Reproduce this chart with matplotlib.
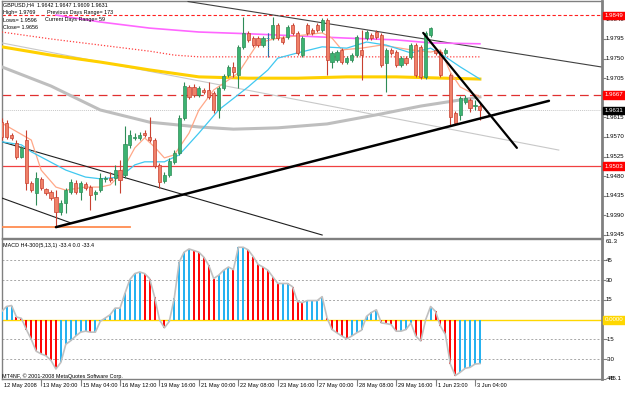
import matplotlib
matplotlib.use('Agg')
import matplotlib.pyplot as plt
import numpy as np
from matplotlib.patches import Rectangle
from matplotlib import font_manager as fm

_names = {f.name for f in fm.fontManager.ttflist}
if 'Liberation Sans Narrow' in _names:
    FAM, SCALE = 'Liberation Sans Narrow', 1.2
else:
    FAM, SCALE = 'Liberation Sans', 1.0
plt.rcParams['font.family'] = [FAM, 'DejaVu Sans']

# ---------------- data ----------------
opens = [1.9604, 1.9602, 1.9575, 1.9556, 1.9524, 1.9563, 1.9464, 1.9441, 1.9474, 1.9451,
         1.9444, 1.9432, 1.9398, 1.9418, 1.9444, 1.9464, 1.9444, 1.9462, 1.9455, 1.9439,
         1.9448, 1.9474, 1.9476, 1.9476, 1.9494, 1.9483, 1.9552, 1.9568, 1.9568, 1.9579,
         1.9570, 1.9563, 1.9506, 1.9469, 1.9483, 1.9513, 1.9533, 1.9614, 1.9685, 1.9685,
         1.9666, 1.9678, 1.9678, 1.9671, 1.9632, 1.9682, 1.9712, 1.9731, 1.9712, 1.9777,
         1.9809, 1.9797, 1.9797, 1.9781, 1.9797, 1.9797, 1.9827, 1.9797, 1.9800, 1.9827,
         1.9809, 1.9758, 1.9827, 1.9816, 1.9827, 1.9816, 1.9839, 1.9742, 1.9747, 1.9770,
         1.9742, 1.9747, 1.9758, 1.9770, 1.9797, 1.9804, 1.9811, 1.9804, 1.9740, 1.9770,
         1.9765, 1.9735, 1.9751, 1.9754, 1.9781, 1.9777, 1.9708, 1.9804, 1.9770, 1.9765,
         1.9763, 1.9712, 1.9625, 1.9621, 1.9650, 1.9655, 1.9641, 1.9642]
closes = [1.9570, 1.9570, 1.9568, 1.9524, 1.9545, 1.9464, 1.9448, 1.9476, 1.9453, 1.9441,
          1.9430, 1.9398, 1.9418, 1.9448, 1.9467, 1.9444, 1.9464, 1.9453, 1.9437, 1.9444,
          1.9476, 1.9476, 1.9471, 1.9494, 1.9471, 1.9554, 1.9575, 1.9570, 1.9575, 1.9575,
          1.9563, 1.9503, 1.9467, 1.9483, 1.9515, 1.9533, 1.9614, 1.9687, 1.9662, 1.9666,
          1.9682, 1.9673, 1.9662, 1.9632, 1.9682, 1.9710, 1.9731, 1.9719, 1.9777, 1.9809,
          1.9793, 1.9781, 1.9781, 1.9797, 1.9797, 1.9827, 1.9797, 1.9788, 1.9823, 1.9809,
          1.9763, 1.9797, 1.9809, 1.9809, 1.9816, 1.9839, 1.9747, 1.9763, 1.9765, 1.9742,
          1.9751, 1.9758, 1.9800, 1.9758, 1.9811, 1.9797, 1.9800, 1.9735, 1.9770, 1.9763,
          1.9735, 1.9751, 1.9740, 1.9781, 1.9712, 1.9708, 1.9809, 1.9820, 1.9763, 1.9712,
          1.9770, 1.9616, 1.9602, 1.9660, 1.9660, 1.9637, 1.9643, 1.9631]
highs = [1.9614, 1.9609, 1.9579, 1.9563, 1.9549, 1.9586, 1.9469, 1.9490, 1.9478, 1.9453,
         1.9448, 1.9448, 1.9425, 1.9453, 1.9474, 1.9471, 1.9469, 1.9467, 1.9460, 1.9448,
         1.9487, 1.9480, 1.9490, 1.9506, 1.9517, 1.9595, 1.9586, 1.9579, 1.9581, 1.9586,
         1.9616, 1.9568, 1.9510, 1.9490, 1.9522, 1.9540, 1.9621, 1.9696, 1.9689, 1.9692,
         1.9687, 1.9682, 1.9696, 1.9676, 1.9687, 1.9715, 1.9735, 1.9742, 1.9781, 1.9845,
         1.9813, 1.9802, 1.9802, 1.9802, 1.9809, 1.9845, 1.9832, 1.9802, 1.9827, 1.9832,
         1.9813, 1.9802, 1.9832, 1.9820, 1.9832, 1.9843, 1.9843, 1.9767, 1.9770, 1.9774,
         1.9756, 1.9763, 1.9804, 1.9816, 1.9816, 1.9809, 1.9816, 1.9809, 1.9774, 1.9774,
         1.9770, 1.9756, 1.9756, 1.9786, 1.9786, 1.9781, 1.9813, 1.9823, 1.9774, 1.9770,
         1.9774, 1.9717, 1.9630, 1.9664, 1.9666, 1.9660, 1.9655, 1.9647]
lows = [1.9563, 1.9565, 1.9563, 1.9520, 1.9522, 1.9448, 1.9444, 1.9414, 1.9448, 1.9437,
        1.9425, 1.9363, 1.9391, 1.9396, 1.9439, 1.9439, 1.9425, 1.9448, 1.9402, 1.9425,
        1.9444, 1.9467, 1.9467, 1.9460, 1.9441, 1.9476, 1.9545, 1.9563, 1.9563, 1.9570,
        1.9559, 1.9499, 1.9453, 1.9464, 1.9478, 1.9508, 1.9529, 1.9609, 1.9657, 1.9662,
        1.9662, 1.9669, 1.9657, 1.9625, 1.9614, 1.9678, 1.9708, 1.9708, 1.9682, 1.9772,
        1.9788, 1.9777, 1.9777, 1.9777, 1.9754, 1.9793, 1.9793, 1.9784, 1.9795, 1.9804,
        1.9758, 1.9754, 1.9804, 1.9804, 1.9811, 1.9811, 1.9712, 1.9728, 1.9742, 1.9738,
        1.9738, 1.9742, 1.9754, 1.9701, 1.9793, 1.9793, 1.9795, 1.9731, 1.9673, 1.9758,
        1.9731, 1.9731, 1.9735, 1.9749, 1.9708, 1.9703, 1.9703, 1.9800, 1.9758, 1.9708,
        1.9758, 1.9598, 1.9598, 1.9609, 1.9646, 1.9627, 1.9632, 1.9609]

macd = [6.25, 10, 10.75, 2, 1, -7.5, -15, -24, -26, -27.5,
        -31, -37.5, -32.5, -18.75, -16, -12.5, -9.5, -8.75, -9.5, -9.5,
        -1.25, 1.25, 3.75, 8.75, 8.75, 20, 30.5, 35, 36.25, 35,
        31.25, 17.5, 0, -6.25, -1.25, 16.25, 43.75, 51.25, 53.75, 52.5,
        51.25, 47.5, 41.25, 31.25, 33.75, 37.5, 40, 38, 55, 55,
        53, 48, 42, 40, 37.5, 32.5, 27.5, 27.5, 27.5, 25,
        13.75, 13, 14.5, 14.5, 14.5, 17.5, 1.25, -7.5, -10, -12.5,
        -14.5, -12.5, -10, -8, 2.5, 5.5, 7.5, -2.5, -3, -3.75,
        -8.75, -8.75, -7.5, -2.5, -12.5, -16.25, 0, 10, 6.25, -5,
        -11.25, -33.75, -42.5, -40, -37, -36.25, -33.75, -33.4]

# moving averages read at selected bars (bar index, price)
ma_blue_idx = [0, 4, 6, 13, 17, 20, 24, 27, 29, 33, 36, 40, 44, 50, 54, 56, 60, 65, 70, 74, 78, 83, 87, 90, 93, 97]
ma_blue_val = [1.9559, 1.9552, 1.9536, 1.9494, 1.9478, 1.9474, 1.9478, 1.9506, 1.9513, 1.9513,
               1.9529, 1.9579, 1.9632, 1.9685, 1.9724, 1.9751, 1.9763, 1.9777, 1.9774, 1.9788,
               1.9781, 1.9763, 1.9774, 1.9754, 1.9731, 1.9703]
ma_salmon_idx = [0, 6, 8, 11, 13, 17, 20, 22, 24, 27, 29, 31, 33, 35, 38, 40, 43, 46, 48, 52,
                 56, 65, 67, 69, 73, 77, 83, 87, 89, 91, 93, 95, 97]
ma_salmon_val = [1.9602, 1.9563, 1.9494, 1.9455, 1.9448, 1.9455, 1.9455, 1.9460, 1.9483, 1.9545,
                 1.9568, 1.9547, 1.9522, 1.9529, 1.9579, 1.9632, 1.9678, 1.9701, 1.9717, 1.9786,
                 1.9797, 1.9809, 1.9797, 1.9770, 1.9774, 1.9781, 1.9770, 1.9765, 1.9770, 1.9719,
                 1.9685, 1.9673, 1.9662]
ma_gold_idx = [0, 10, 20, 30, 40, 50, 60, 70, 80, 90, 97]
ma_gold_val = [1.9777, 1.9758, 1.9742, 1.9724, 1.9708, 1.9705, 1.9705, 1.9708, 1.9708, 1.9705, 1.9703]
ma_gray_idx = [0, 10, 20, 30, 40, 47, 56, 66, 77, 85, 93, 97]
ma_gray_val = [1.9731, 1.9687, 1.9632, 1.9604, 1.9593, 1.9588, 1.9591, 1.9600, 1.9623, 1.9641, 1.9655, 1.9662]
ma_magenta_idx = [11, 20, 30, 40, 50, 60, 70, 80, 87, 97]
ma_magenta_val = [1.9850, 1.9834, 1.9820, 1.9811, 1.9807, 1.9802, 1.9797, 1.9793, 1.9786, 1.9784]
ma_reddot_idx = [0, 10, 20, 30, 35, 40, 97]
ma_reddot_val = [1.9811, 1.9795, 1.9781, 1.9767, 1.9758, 1.9754, 1.9754]

# drawn objects: (bar index, price) endpoints
trend_up = [(11, 1.9363), (111, 1.9653)]
trend_down_steep = [(85.5, 1.9809), (104.5, 1.9545)]
chan_top = [(37.8, 1.9881), (121.5, 1.9731)]
chan_left_upper = [(0, 1.9559), (65, 1.9345)]
chan_left_lower = [(0, 1.9430), (14.2, 1.9372)]
light_line = [(0, 1.9786), (113, 1.9540)]
low_level = [(0, 1.9363), (26, 1.9363)]
blue_vline = (54, 1.9809, 1.9754)

hline_high = 1.9849
hline_mid = 1.9667
hline_low = 1.9503
price_now = 1.9631

price_ticks = [1.9840, 1.9795, 1.9750, 1.9705, 1.9660, 1.9615, 1.9570, 1.9525, 1.9480, 1.9435, 1.9390, 1.9345]
macd_ticks = [45, 30, 15, -15, -30, -45]
macd_top, macd_bottom = 61.3, -45.1
time_idx = [0, 8, 16, 24, 32, 40, 48, 56, 64, 72, 80, 88, 96]
time_lab = ["12 May 2008", "13 May 20:00", "15 May 04:00", "16 May 12:00", "19 May 16:00",
            "21 May 00:00", "22 May 08:00", "23 May 16:00", "27 May 00:00", "28 May 08:00",
            "29 May 16:00", "1 Jun 23:00", "3 Jun 04:00"]

# ---------------- figure ----------------
W, H = 625, 395
fig = plt.figure(figsize=(W / 100, H / 100), dpi=100)
fig.patch.set_facecolor('white')


def rect(l, t, r, b):
    return [l / W, 1 - b / H, (r - l) / W, (b - t) / H]


ax = fig.add_axes(rect(2, 1, 602, 238))
ax2 = fig.add_axes(rect(2, 239, 602, 379))
PX = 4.93
X0 = 1.7
for a in (ax, ax2):
    a.set_xlim((2 - X0) / PX, (602 - X0) / PX)
    a.set_facecolor('white')
    for s in a.spines.values():
        s.set_color('#808080')
        s.set_linewidth(1)
    a.spines['right'].set_linewidth(2)
    a.set_xticks([])
ax.set_ylim(1.93381, 1.98822)
ax2.set_ylim(macd_bottom, macd_top)

FS_AX = 4.4 * SCALE
FS_T = 4.1 * SCALE
FS_H = 3.9 * SCALE
N = len(opens)
x = np.arange(N)

# horizontal levels
ax.axhline(hline_high, color='#FF2020', lw=0.8, ls=(0, (3, 2)), zorder=2)
ax.axhline(hline_mid, color='#E03030', lw=0.9, ls=(0, (7, 4)), zorder=2)
ax.axhline(hline_low, color='#F04040', lw=0.9, zorder=2)
ax.axhline(price_now, color='#C8C8C8', lw=0.7, ls=(0, (1, 1)), zorder=2)


def seg(p, **kw):
    ax.plot([p[0][0], p[1][0]], [p[0][1], p[1][1]], **kw)


seg(light_line, color='#C8C8C8', lw=0.8, zorder=3)
seg(chan_top, color='#404040', lw=0.8, zorder=3)
seg(chan_left_upper, color='#202020', lw=0.8, zorder=3)
seg(chan_left_lower, color='#202020', lw=0.8, zorder=3)
seg(low_level, color='#FF8C50', lw=1.3, zorder=3)

# moving averages
ax.plot(ma_gray_idx, ma_gray_val, color='#BEBEBE', lw=2.2, zorder=3)
ax.plot(ma_gold_idx, ma_gold_val, color='#FFD000', lw=2.2, zorder=3)
ax.plot(ma_magenta_idx, ma_magenta_val, color='#FF66FF', lw=1.2, zorder=3)
ax.plot(ma_reddot_idx, ma_reddot_val, color='#FF4040', lw=0.9, ls=(0, (1, 1.5)), zorder=3)
ax.plot(ma_salmon_idx, ma_salmon_val, color='#FFA888', lw=0.9, zorder=4)
ax.plot(ma_blue_idx, ma_blue_val, color='#40C8F0', lw=0.9, zorder=4)

# candles
for i in range(N):
    o, h, l, c = opens[i], highs[i], lows[i], closes[i]
    up = c >= o
    wick = '#2E8B57' if up else '#C84030'
    face = '#3CB371' if up else '#F08068'
    edge = '#2E8B57' if up else '#C84030'
    ax.plot([i, i], [l, h], color=wick, lw=0.8, zorder=5, solid_capstyle='butt')
    lo, hi = min(o, c), max(o, c)
    ax.add_patch(Rectangle((i - 0.32, lo), 0.64, max(hi - lo, 0.00004),
                           facecolor=face, edgecolor=edge, lw=0.5, zorder=6))

ax.plot([blue_vline[0]] * 2, [blue_vline[1], blue_vline[2]], color='#3060F0', lw=0.8,
        ls=(0, (1, 1)), zorder=7)

seg(trend_up, color='black', lw=1.8, zorder=8, solid_capstyle='round')
seg(trend_down_steep, color='black', lw=1.6, zorder=8, solid_capstyle='round')

# right price axis
ax.yaxis.tick_right()
ax.set_yticks(price_ticks)
ax.tick_params(axis='y', length=3, color='#808080', labelright=False, width=0.8)
ytr = ax.get_yaxis_transform()
for v in price_ticks:
    ax.text(1.0 + 4 / 600, v, f"{v:.4f}", transform=ytr, fontsize=FS_AX, va='center',
            ha='left', clip_on=False)


def tag(axis, v, s, fc, tc='white'):
    axis.text(1.0 + 2.5 / 600, v, s, transform=axis.get_yaxis_transform(), fontsize=FS_AX,
              va='center', ha='left', color=tc, clip_on=False, zorder=20,
              bbox=dict(facecolor=fc, edgecolor=fc, pad=1.0))


tag(ax, hline_high, f"{hline_high:.4f}", '#FF0000')
tag(ax, hline_mid, f"{hline_mid:.4f}", '#FF0000')
tag(ax, price_now, f"{price_now:.4f}", '#000000')
tag(ax, hline_low, f"{hline_low:.4f}", '#FF0000')

# MACD panel
cols = ['#20B0F0' if (i == 0 or macd[i] >= macd[i - 1]) else '#FF0000' for i in range(N)]
ax2.vlines(x, 0, macd, colors=cols, lw=1.4, zorder=3)
ax2.plot(x, macd, color='#C0C0C0', lw=1.2, zorder=4)
ax2.axhline(0, color='#FFD700', lw=1.0, zorder=2)
for lv in macd_ticks:
    ax2.axhline(lv, color='#A8A8A8', lw=0.7, ls=(0, (2, 2)), zorder=1)
ax2.yaxis.tick_right()
ax2.set_yticks(macd_ticks + [0])
ax2.tick_params(axis='y', length=3, color='#808080', labelright=False, width=0.8)
ytr2 = ax2.get_yaxis_transform()
for v in macd_ticks:
    ax2.text(1.0 + 4 / 600, v, f"{v}", transform=ytr2, fontsize=FS_AX, va='center',
             ha='left', clip_on=False)
ax2.text(1.0 + 4 / 600, macd_top, f"{macd_top}", transform=ytr2, fontsize=FS_AX, va='top',
         ha='left', clip_on=False)
ax2.text(1.0 + 6 / 600, macd_bottom, f"{macd_bottom}", transform=ytr2, fontsize=FS_AX,
         va='center', ha='left', clip_on=False)
tag(ax2, 0, "0.0000", '#FFD700')

# time axis
ax2.set_xticks(time_idx[1:])
ax2.set_xticklabels([])
ax2.tick_params(axis='x', length=5, color='#808080', width=0.8)
xtr = ax2.get_xaxis_transform()
for i, s in zip(time_idx, time_lab):
    ax2.text(i + 0.4, -0.03, s, transform=xtr, fontsize=FS_T, va='top', ha='left', clip_on=False)


def ft(xp, yp, s, fs):
    fig.text(xp / W, 1 - yp / H, s, fontsize=fs, va='center', ha='left')


ft(3, 5, "GBPUSD,H4  1.9642 1.9647 1.9609 1.9631", FS_H)
ft(3, 12.5, "High= 1.9769", FS_H)
ft(47, 12.5, "Previous Days Range= 173", FS_H)
ft(3, 20, "Lows= 1.9596", FS_H)
ft(45, 20, "Current Days Range= 59", FS_H)
ft(3, 27.5, "Close= 1.9656", FS_H)
ft(3, 246, "MACD H4-300(5,13,1) -33.4 0.0 -33.4", FS_H)
ft(2, 376, "MT4NF, \u00a9 2001-2008 MetaQuotes Software Corp.", FS_H)

fig.savefig('out.png', dpi=100, facecolor='white')
